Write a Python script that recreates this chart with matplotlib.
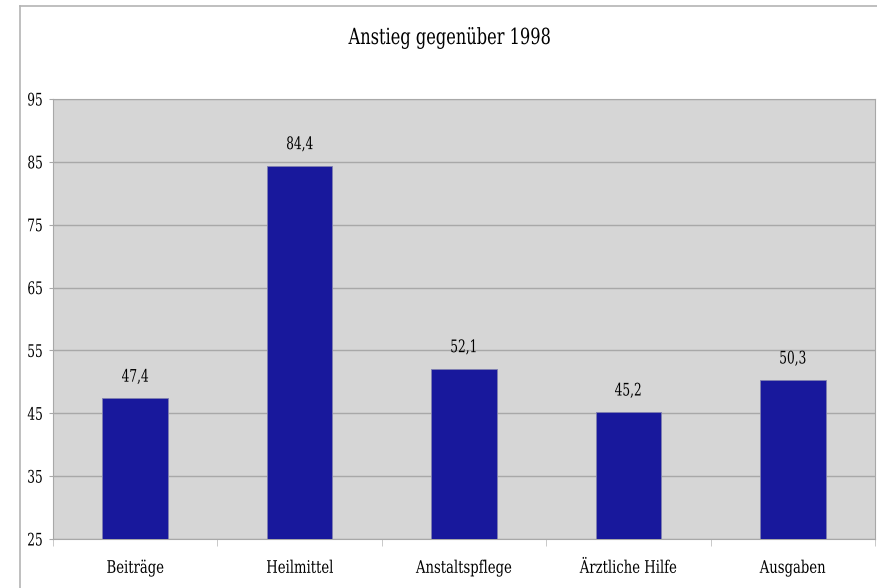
import numpy as np
import matplotlib
matplotlib.use('Agg')
import matplotlib.pyplot as plt
from matplotlib.lines import Line2D
from matplotlib.patheffects import AbstractPathEffect
from matplotlib.transforms import Affine2D

categories = ['Beiträge', 'Heilmittel', 'Anstaltspflege', 'Ärztliche Hilfe', 'Ausgaben']
values = [47.4, 84.4, 52.1, 45.2, 50.3]
yticks = [25, 35, 45, 55, 65, 75, 85, 95]


class Narrow(AbstractPathEffect):
    # squeeze glyphs horizontally, keeping the anchor point in place
    def __init__(self, sx=0.8, anchor='center'):
        super().__init__()
        self.sx = sx
        self.anchor = anchor

    def draw_path(self, renderer, gc, tpath, affine, rgbFace=None):
        ext = tpath.get_extents()
        cx = {'left': ext.x0, 'right': ext.x1}.get(self.anchor, (ext.x0 + ext.x1) / 2)
        t = Affine2D().translate(-cx, 0).scale(self.sx, 1).translate(cx, 0) + affine
        renderer.draw_path(gc, tpath, t, rgbFace)


plt.rcParams['font.family'] = ['DejaVu Serif']

fig = plt.figure(figsize=(8.78, 5.88), dpi=100)
ax = fig.add_axes([53/878, 1-539/588, (875-53)/878, (539-99)/588])

x = np.arange(len(categories))
ax.bar(x, values, width=0.4, color='#18189c', edgecolor='#8080b0', linewidth=0.6, zorder=3)
for xi, v in zip(x, values):
    ax.annotate(f'{v:.1f}'.replace('.', ','), (xi, v), xytext=(0, 21),
                textcoords='offset pixels', ha='center', va='center', fontsize=12.5,
                path_effects=[Narrow(0.7)])

ax.set_facecolor('#d6d6d6')
ax.set_xlim(-0.5, len(categories) - 0.5)
ax.set_ylim(25, 95)
ax.set_yticks(yticks)
ax.set_yticklabels([str(t) for t in yticks], fontsize=12.5)
for lbl in ax.get_yticklabels():
    lbl.set_path_effects([Narrow(0.7, 'right')])
ax.yaxis.grid(True, color='#a8a8a8', linewidth=1, zorder=0)
ax.set_axisbelow(True)

ax.set_xticks(x)
ax.set_xticklabels(categories, fontsize=12.5)
for lbl in ax.get_xticklabels():
    lbl.set_path_effects([Narrow(0.76)])
ax.tick_params(axis='x', length=0, pad=15)
ax.set_xticks(np.arange(-0.5, len(categories)), minor=True)
ax.tick_params(axis='x', which='minor', length=5, color='#c0c0c0')
ax.tick_params(axis='y', length=3, color='#a8a8a8', pad=4)

for s in ax.spines.values():
    s.set_color('#a8a8a8')

fig.text(450/878, 1 - 38/588, 'Anstieg gegenüber 1998', ha='center', va='center', fontsize=16,
         path_effects=[Narrow(0.73)])

# chart frame
fig.add_artist(Line2D([20/878, 1], [1 - 6/588, 1 - 6/588], color='#b4b4b4', linewidth=1.2))
fig.add_artist(Line2D([20/878, 20/878], [0, 1 - 6/588], color='#b4b4b4', linewidth=1.2))

fig.savefig('out.png', dpi=100)
